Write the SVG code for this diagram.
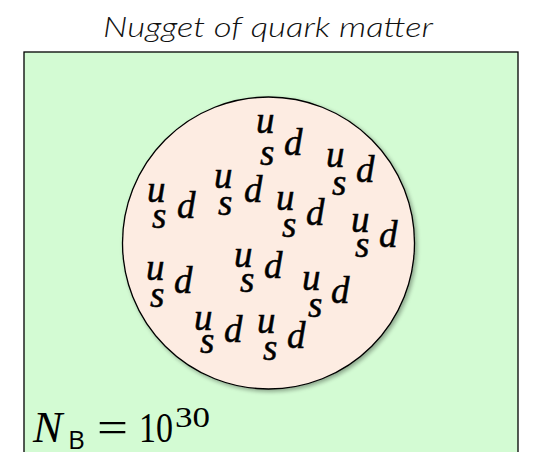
<svg xmlns="http://www.w3.org/2000/svg" width="539" height="452" viewBox="0 0 539 452">
<style>
.q{font-family:'Liberation Serif','Times New Roman',serif;font-style:italic;font-size:37px;fill:#000;stroke:#000;stroke-width:0.5}
.t{font-family:Lato,'Open Sans',sans-serif;font-style:italic;font-weight:300;font-size:28px;fill:#111}
.m{font-family:'Liberation Serif','Times New Roman',serif;fill:#000}
</style>
<defs>
<filter id="sh" x="-10%" y="-10%" width="130%" height="130%">
<feGaussianBlur in="SourceAlpha" stdDeviation="2"/>
<feOffset dx="2" dy="2"/>
<feComponentTransfer><feFuncA type="linear" slope="0.35"/></feComponentTransfer>
<feMerge><feMergeNode/><feMergeNode in="SourceGraphic"/></feMerge>
</filter>
</defs>
<text id="title" class="t" x="268" y="37" text-anchor="middle" textLength="330" lengthAdjust="spacingAndGlyphs">Nugget of quark matter</text>
<g id="box">
<rect x="24" y="52" width="494" height="420" fill="#d3fbd3" stroke="#000" stroke-width="1.3"/>
</g>
<g id="nugget">
<circle cx="268.5" cy="243" r="146" fill="#fdece2" stroke="#000" stroke-width="1.3" filter="url(#sh)"/>
</g>
<g id="quarks">
<text class="q" x="256" y="133">u</text><text class="q" x="260" y="165">s</text><text class="q" x="284" y="155">d</text>
<text class="q" x="326" y="167">u</text><text class="q" x="332" y="195">s</text><text class="q" x="356" y="182">d</text>
<text class="q" x="147" y="202">u</text><text class="q" x="152" y="228">s</text><text class="q" x="177" y="218">d</text>
<text class="q" x="214" y="188">u</text><text class="q" x="218" y="215">s</text><text class="q" x="244" y="202">d</text>
<text class="q" x="276" y="210">u</text><text class="q" x="282" y="237">s</text><text class="q" x="306" y="225">d</text>
<text class="q" x="351" y="232">u</text><text class="q" x="355" y="257">s</text><text class="q" x="379" y="247">d</text>
<text class="q" x="146" y="280">u</text><text class="q" x="150" y="307">s</text><text class="q" x="174" y="293">d</text>
<text class="q" x="234" y="267">u</text><text class="q" x="240" y="292">s</text><text class="q" x="264" y="278">d</text>
<text class="q" x="302" y="290">u</text><text class="q" x="308" y="317">s</text><text class="q" x="331" y="303">d</text>
<text class="q" x="194" y="330">u</text><text class="q" x="200" y="353">s</text><text class="q" x="224" y="342">d</text>
<text class="q" x="257" y="333">u</text><text class="q" x="263" y="360">s</text><text class="q" x="287" y="348">d</text>
</g>
<g id="label">
<text class="m" x="33" y="442" font-size="44" font-style="italic">N</text>
<text x="68" y="449" font-family="'Open Sans',sans-serif" font-size="26">B</text>
<text class="m" x="97" y="442" font-size="44" textLength="31" lengthAdjust="spacingAndGlyphs">=</text>
<text class="m" x="139" y="442" font-size="42" textLength="34" lengthAdjust="spacingAndGlyphs">10</text>
<text class="m" x="175" y="427" font-size="29" textLength="35" lengthAdjust="spacingAndGlyphs">30</text>
</g>
</svg>
